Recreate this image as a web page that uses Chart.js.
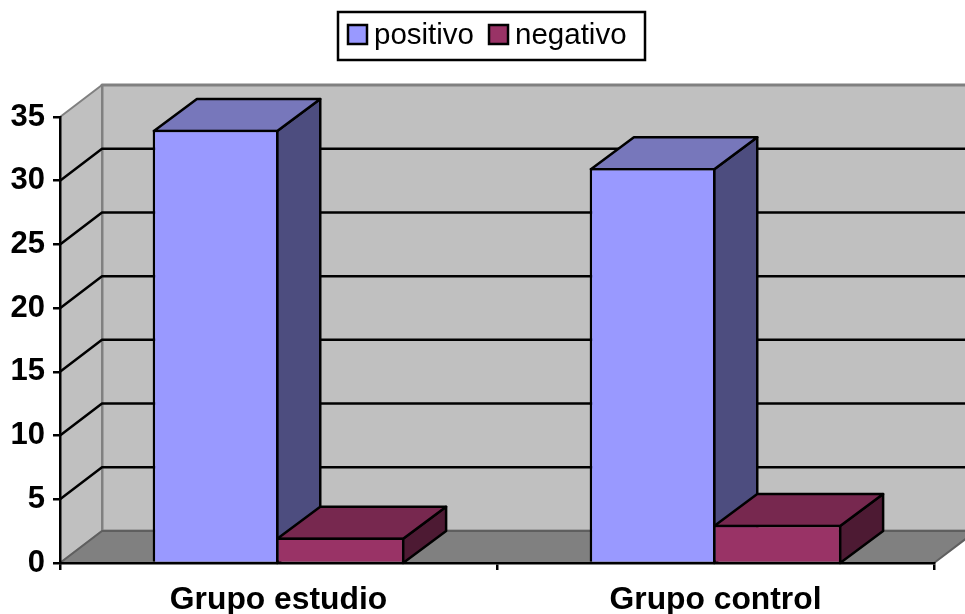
<!DOCTYPE html>
<html>
<head>
<meta charset="utf-8">
<title>Grupo estudio / Grupo control</title>
<script src="https://cdn.jsdelivr.net/npm/chart.js@4"></script>
<style>
    html, body { margin: 0; padding: 0; background: #fff; overflow: hidden; }
    canvas { display: block; }
</style>
</head>
<body>
<canvas id="chart" width="965" height="614"></canvas>
<script>
const categories = ["Grupo estudio", "Grupo control"];
const positivo = [34, 31];
const negativo = [2, 3];

// Depth of the fake 3D box, in pixels
const DEPTH_X = 42;
const DEPTH_Y = 32;
const BAR_DEPTH_X = 43;
const LINE = 2.5;
const FONT = '"Liberation Sans", Arial, sans-serif';

function poly(ctx, points, fill, stroke, width) {
    ctx.beginPath();
    points.forEach((p, i) => i ? ctx.lineTo(p[0], p[1]) : ctx.moveTo(p[0], p[1]));
    ctx.closePath();
    if (fill) {
        ctx.fillStyle = fill;
        ctx.fill();
    }
    if (stroke) {
        ctx.strokeStyle = stroke;
        ctx.lineWidth = width;
        ctx.stroke();
    }
}

// Back wall, side wall, floor and the gridlines that run across them
const wallsPlugin = {
    id: "walls",
    beforeDraw(chart) {
        const { ctx } = chart;
        const { left, right, top, bottom } = chart.chartArea;
        const y = chart.scales.y;
        ctx.save();
        ctx.lineJoin = "round";

        poly(ctx, [[left + DEPTH_X, top - DEPTH_Y], [right + DEPTH_X, top - DEPTH_Y], [right + DEPTH_X, bottom - DEPTH_Y], [left + DEPTH_X, bottom - DEPTH_Y]], "#c0c0c0", "#808080", 3);
        poly(ctx, [[left, top], [left + DEPTH_X, top - DEPTH_Y], [left + DEPTH_X, bottom - DEPTH_Y], [left, bottom]], "#c0c0c0", "#808080", 2);
        poly(ctx, [[left, bottom], [left + DEPTH_X, bottom - DEPTH_Y], [right + DEPTH_X, bottom - DEPTH_Y], [right, bottom]], "#808080", "#5f5f5f", 2);

        ctx.strokeStyle = "#000";
        ctx.lineWidth = LINE;
        y.ticks.forEach(t => {
            if (t.value === y.min || t.value === y.max) return;
            const py = y.getPixelForValue(t.value);
            ctx.beginPath();
            ctx.moveTo(left, py);
            ctx.lineTo(left + DEPTH_X, py - DEPTH_Y);
            ctx.lineTo(right + DEPTH_X, py - DEPTH_Y);
            ctx.stroke();
        });
        ctx.restore();
    }
};

// Top and side faces of each bar, the front face is the normal Chart.js bar
const barFacesPlugin = {
    id: "barFaces",
    beforeDatasetsDraw(chart) {
        const { ctx } = chart;
        const base = chart.scales.y.getPixelForValue(0);
        const inset = LINE / 2;
        ctx.save();
        ctx.lineJoin = "round";
        chart.data.datasets.forEach((ds, i) => {
            chart.getDatasetMeta(i).data.forEach(bar => {
                const l = bar.x - bar.width / 2 + (i === 0 ? inset : -inset);
                const r = bar.x + bar.width / 2 - inset;
                const t = bar.y + inset;
                poly(ctx, [[r, t], [r + BAR_DEPTH_X, t - DEPTH_Y], [r + BAR_DEPTH_X, base - DEPTH_Y], [r, base]], ds.sideColor, "#000", LINE);
                poly(ctx, [[l, t], [r, t], [r + BAR_DEPTH_X, t - DEPTH_Y], [l + BAR_DEPTH_X, t - DEPTH_Y]], ds.topColor, "#000", LINE);
            });
        });
        ctx.restore();
    }
};

// Framed legend above the plot
const legendPlugin = {
    id: "framedLegend",
    afterDraw(chart) {
        const { ctx } = chart;
        ctx.save();
        ctx.strokeStyle = "#000";
        ctx.lineWidth = LINE;
        ctx.strokeRect(338, 12, 307, 48);
        ctx.font = "29.5px " + FONT;
        ctx.textBaseline = "middle";
        let x = 348;
        chart.data.datasets.forEach(ds => {
            ctx.fillStyle = ds.backgroundColor;
            ctx.fillRect(x, 25, 19, 19);
            ctx.strokeRect(x, 25, 19, 19);
            ctx.fillStyle = "#000";
            ctx.fillText(ds.label, x + 26, 36);
            x += 26 + ctx.measureText(ds.label).width + 15;
        });
        ctx.restore();
    }
};

new Chart(document.getElementById("chart").getContext("2d"), {
    type: "bar",
    data: {
        labels: categories,
        datasets: [
            {
                label: "positivo",
                data: positivo,
                backgroundColor: "#9999ff",
                topColor: "#7777bb",
                sideColor: "#4d4d7f",
                borderColor: "#000",
                borderWidth: { top: LINE, right: LINE, bottom: 0, left: LINE },
                borderSkipped: false
            },
            {
                label: "negativo",
                data: negativo,
                backgroundColor: "#993366",
                topColor: "#77284f",
                sideColor: "#4d1a33",
                borderColor: "#000",
                borderWidth: { top: LINE, right: LINE, bottom: 0, left: 0 },
                borderSkipped: false
            }
        ]
    },
    options: {
        responsive: false,
        animation: false,
        categoryPercentage: 0.576,
        barPercentage: 1,
        layout: { padding: { top: 117, right: 31 } },
        plugins: {
            legend: { display: false },
            tooltip: { enabled: false }
        },
        scales: {
            x: {
                offset: true,
                grid: { offset: true, drawOnChartArea: false, color: "#000", lineWidth: LINE, tickLength: 7 },
                border: { color: "#000", width: LINE, z: 1 },
                ticks: { color: "#000", padding: 11, maxRotation: 0, font: { family: FONT, size: 31.8, weight: "bold" } },
                afterFit(scale) { scale.height = 51; }
            },
            y: {
                min: 0,
                max: 35,
                ticks: { stepSize: 5, color: "#000", padding: 8, font: { family: FONT, size: 31, weight: "bold" } },
                grid: { drawOnChartArea: false, color: "#000", lineWidth: LINE, tickLength: 7 },
                border: { color: "#000", width: LINE, z: 1 },
                afterFit(scale) { scale.width = 60; }
            }
        }
    },
    plugins: [wallsPlugin, barFacesPlugin, legendPlugin]
});
</script>
</body>
</html>
